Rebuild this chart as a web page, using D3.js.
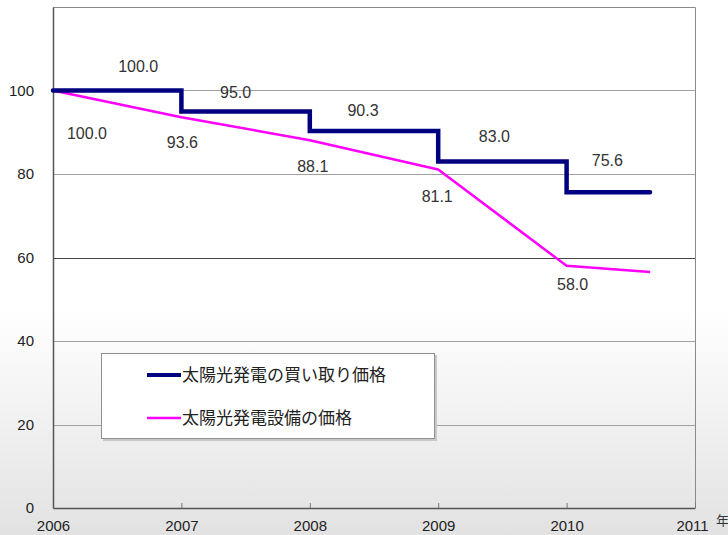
<!DOCTYPE html>
<html><head><meta charset="utf-8">
<script src="https://cdn.jsdelivr.net/npm/d3@7"></script>
<style>html,body{margin:0;padding:0;background:#fff;}svg{display:block;}</style>
</head><body>
<script>
// ---- data ----
const years = [2006, 2007, 2008, 2009, 2010];
const endYear = 2010.65;
const feedInPrice = [100.0, 95.0, 90.3, 83.0, 75.6];      // 太陽光発電の買い取り価格
const equipPrice = [100.0, 93.6, 88.1, 81.1, 58.0];       // 太陽光発電設備の価格
const equipEnd = 56.5;
const xTicks = [2006, 2007, 2008, 2009, 2010, 2011];
const yTicks = [0, 20, 40, 60, 80, 100];
const seriesNames = ["太陽光発電の買い取り価格", "太陽光発電設備の価格"];
const xUnit = "年";

// ---- layout ----
const W = 728, H = 535;
const m = {l: 53, r: 695, t: 7, b: 508};
const x = d3.scaleLinear().domain([2006, 2011]).range([m.l, m.r]);
const y = d3.scaleLinear().domain([0, 120]).range([m.b, m.t]);
const font = "'Liberation Sans', Arial, 'Noto Sans CJK JP', sans-serif";
const jfont = "'Noto Sans CJK JP', 'Liberation Sans', sans-serif";

const svg = d3.select("body").append("svg").attr("width", W).attr("height", H);
const defs = svg.append("defs");
const g = defs.append("linearGradient").attr("id", "bg").attr("x1", 0).attr("y1", 0).attr("x2", 0).attr("y2", 1);
g.append("stop").attr("offset", "0.58").attr("stop-color", "#ffffff");
g.append("stop").attr("offset", "1").attr("stop-color", "#e2e2e2");
svg.append("rect").attr("width", W).attr("height", H).attr("fill", "url(#bg)");

// gridlines
svg.append("g").selectAll("line").data(yTicks.filter(d => d > 0)).join("line")
  .attr("x1", m.l).attr("x2", m.r)
  .attr("y1", d => Math.round(y(d)) + 0.5).attr("y2", d => Math.round(y(d)) + 0.5)
  .attr("stroke", d => d === 60 ? "#444" : "#a0a0a0").attr("stroke-width", 1);

// frame top/right
svg.append("path")
  .attr("d", `M${m.l},${m.t + 0.5}H${m.r + 0.5}V${m.b}`)
  .attr("fill", "none").attr("stroke", "#8a8a8a").attr("stroke-width", 1);

// axes
const xAxis = d3.axisBottom(x).tickValues(xTicks).tickFormat(d3.format("d")).tickSizeInner(-5).tickSizeOuter(0).tickPadding(12);
const gx = svg.append("g").attr("transform", `translate(0,${m.b})`).call(xAxis);
gx.select(".domain").attr("stroke", "#555").attr("stroke-width", 1.5);
gx.selectAll(".tick line").attr("stroke", "#777");
gx.selectAll("text").attr("font-family", font).attr("font-size", 15).attr("fill", "#222")
  .attr("dx", d => d === 2011 ? -3 : 0);

const yAxis = d3.axisLeft(y).tickValues(yTicks).tickSize(0).tickPadding(19);
const gy = svg.append("g").attr("transform", `translate(${m.l},0)`).call(yAxis);
gy.select(".domain").attr("stroke", "#555").attr("stroke-width", 1.5);
gy.selectAll("text").attr("font-family", font).attr("font-size", 15).attr("fill", "#222");

svg.append("text").attr("x", 716).attr("y", 525).text(xUnit)
  .attr("font-family", jfont).attr("font-size", 13).attr("fill", "#333");

// series
const pinkData = years.map((yr, i) => [yr, equipPrice[i]]).concat([[endYear, equipEnd]]);
const blueData = years.map((yr, i) => [yr, feedInPrice[i]]).concat([[endYear, feedInPrice[feedInPrice.length - 1]]]);

svg.append("path").datum(pinkData)
  .attr("d", d3.line().x(d => x(d[0])).y(d => y(d[1])))
  .attr("fill", "none").attr("stroke", "#ff00ff").attr("stroke-width", 2.5).attr("stroke-linejoin", "round");

svg.append("path").datum(blueData)
  .attr("d", d3.line().x(d => x(d[0])).y(d => y(d[1])).curve(d3.curveStepAfter))
  .attr("fill", "none").attr("stroke", "#000080").attr("stroke-width", 4.5).attr("stroke-linejoin", "miter").attr("stroke-linecap", "round");

// data labels
const blueLabelDx = [21, -10, -11, -8, -1];   // px offsets from segment midpoint
const blueLabelDy = [-24, -19, -21, -25, -32];
const segEnd = years.slice(1).concat([endYear]);
svg.append("g").selectAll("text").data(feedInPrice).join("text")
  .attr("x", (d, i) => (x(years[i]) + x(segEnd[i])) / 2 + blueLabelDx[i])
  .attr("y", (d, i) => y(d) + blueLabelDy[i])
  .attr("dy", "0.35em").attr("text-anchor", "middle")
  .attr("font-family", font).attr("font-size", 16).attr("fill", "#333")
  .text(d => d.toFixed(1));

const pinkLabelDx = [34, 1, 3, -1, 6];
const pinkLabelDy = [43, 25, 26, 27, 19];
svg.append("g").selectAll("text").data(equipPrice).join("text")
  .attr("x", (d, i) => x(years[i]) + pinkLabelDx[i])
  .attr("y", (d, i) => y(d) + pinkLabelDy[i])
  .attr("dy", "0.35em").attr("text-anchor", "middle")
  .attr("font-family", font).attr("font-size", 16).attr("fill", "#333")
  .text(d => d.toFixed(1));

// legend
const lg = svg.append("g");
lg.append("rect").attr("x", 103).attr("y", 355).attr("width", 334).attr("height", 86).attr("fill", "#c8c8c8");
lg.append("rect").attr("x", 101.5).attr("y", 353.5).attr("width", 333).attr("height", 85).attr("fill", "#fff").attr("stroke", "#909090");
const legColors = ["#000080", "#ff00ff"];
const legW = [4, 2.5];
const legY = [375, 418];
seriesNames.forEach((name, i) => {
  lg.append("line").attr("x1", 147).attr("x2", 181).attr("y1", legY[i]).attr("y2", legY[i])
    .attr("stroke", legColors[i]).attr("stroke-width", legW[i]);
  lg.append("text").attr("x", 182).attr("y", legY[i]).attr("dy", "0.36em")
    .attr("font-family", jfont).attr("font-size", 17).attr("fill", "#222").text(name);
});
</script>
</body></html>
